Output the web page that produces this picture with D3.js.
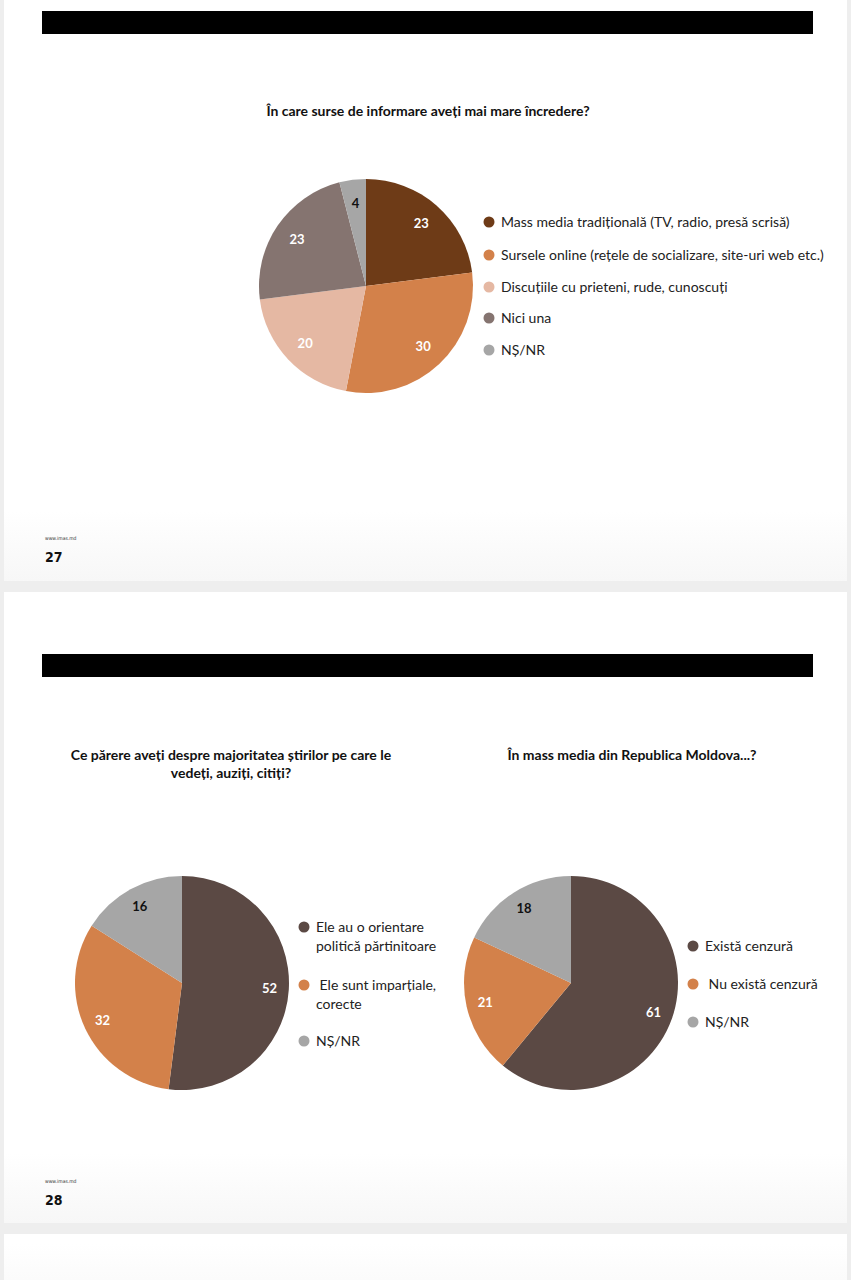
<!DOCTYPE html>
<html><head><meta charset="utf-8">
<script src="https://cdn.jsdelivr.net/npm/d3@7"></script>
<style>
html,body{margin:0;padding:0;background:#eeeeee;}
svg{display:block;}
</style></head>
<body>
<svg id="c" width="851" height="1280"></svg>
<script>
// ---- data ----
const chart1Title = ["În care surse de informare aveți mai mare încredere?"];
const chart1Categories = ["Mass media tradițională (TV, radio, presă scrisă)", "Sursele online (rețele de socializare, site-uri web etc.)", "Discuțiile cu prieteni, rude, cunoscuți", "Nici una", "NȘ/NR"];
const chart1Values = [23, 30, 20, 23, 4];
const chart1Colors = ["#6e3b17", "#d3814a", "#e5b8a3", "#857470", "#a6a6a6"];

const chart2Title = ["Ce părere aveți despre majoritatea știrilor pe care le", "vedeți, auziți, citiți?"];
const chart2Categories = [["Ele au o orientare", "politică părtinitoare"], [" Ele sunt imparțiale,", "corecte"], ["NȘ/NR"]];
const chart2Values = [52, 32, 16];

const chart3Title = ["În mass media din Republica Moldova...?"];
const chart3Categories = [["Există cenzură"], [" Nu există cenzură"], ["NȘ/NR"]];
const chart3Values = [61, 21, 18];
const chart23Colors = ["#5b4944", "#d3814a", "#a6a6a6"];

const pageNumbers = ["27", "28"];
const siteLabel = "www.imas.md";

// ---- drawing ----
const svg = d3.select("#c");
const FONT = "Lato, 'Open Sans', sans-serif";

const defs = svg.append("defs");
const grad = defs.append("linearGradient").attr("id","fg").attr("x1",0).attr("y1",0).attr("x2",0).attr("y2",1);
grad.append("stop").attr("offset","0").attr("stop-color","#ffffff");
grad.append("stop").attr("offset","1").attr("stop-color","#f7f7f7");

// slides
const slides = [{y:-10,h:591},{y:592,h:631},{y:1234,h:80}];
slides.forEach(s=>{
  svg.append("rect").attr("x",4).attr("y",s.y).attr("width",843).attr("height",s.h).attr("fill","#ffffff");
  svg.append("rect").attr("x",4).attr("y",s.y+s.h-70).attr("width",843).attr("height",70).attr("fill","url(#fg)");
});
// black bars
[11,654].forEach(y=>svg.append("rect").attr("x",42).attr("y",y).attr("width",771).attr("height",23).attr("fill","#000"));

// footers
[[538,557,0],[1181,1200,1]].forEach(([y1,y2,i])=>{
  svg.append("text").attr("x",45).attr("y",y1+2).attr("font-family","'DejaVu Sans Condensed', sans-serif").attr("font-size",5).attr("fill","#333").text(siteLabel);
  svg.append("text").attr("x",45).attr("y",y2+5).attr("font-family","'DejaVu Sans Condensed', sans-serif").attr("font-weight","bold").attr("font-size",14).attr("fill","#111").text(pageNumbers[i]);
});

function title(lines, cx, y0){
  lines.forEach((t,i)=>{
    svg.append("text").attr("x",cx).attr("y",y0+i*18).attr("text-anchor","middle")
      .attr("font-family",FONT).attr("font-weight","bold").attr("font-size",14).attr("fill","#111").text(t);
  });
}
title(chart1Title, 428, 116);
title(chart2Title, 231, 760);
title(chart3Title, 632, 760);

function pie(values, colors, cx, cy, r, labelColors, labelPos){
  const g = svg.append("g").attr("transform",`translate(${cx},${cy})`);
  const arcs = d3.pie().sort(null).value(d=>d)(values);
  const arc = d3.arc().innerRadius(0).outerRadius(r);
  g.selectAll("path").data(arcs).join("path").attr("d",arc).attr("fill",(d,i)=>colors[i]);
  const la = d3.arc().innerRadius(r*labelPos).outerRadius(r*labelPos);
  g.selectAll("text").data(arcs).join("text")
    .attr("transform",d=>`translate(${la.centroid(d)})`)
    .attr("text-anchor","middle").attr("dy","0.35em")
    .attr("font-family",FONT).attr("font-weight","bold").attr("font-size",13)
    .attr("fill",(d,i)=>labelColors[i]).text(d=>d.data);
}
pie(chart1Values, chart1Colors, 366, 286, 107, ["#fff","#fff","#fff","#fff","#111"], 0.78);
pie(chart2Values, chart23Colors, 182, 983, 107, ["#fff","#fff","#111"], 0.82);
pie(chart3Values, chart23Colors, 571, 983, 107, ["#fff","#fff","#111"], 0.82);

// legends
function legend(cats, colors, x, ys){
  cats.forEach((c,i)=>{
    const lines = Array.isArray(c)?c:[c];
    svg.append("circle").attr("cx",x).attr("cy",ys[i]).attr("r",5.5).attr("fill",colors[i]);
    lines.forEach((t,j)=>{
      svg.append("text").attr("x",x+12).attr("y",ys[i]+j*19).attr("dy","0.35em")
        .attr("font-family",FONT).attr("font-size",14).attr("fill","#222").style("white-space","pre").text(t);
    });
  });
}
legend(chart1Categories, chart1Colors, 489, [222,255,287,318,350]);
legend(chart2Categories, chart23Colors, 304, [927,985,1041]);
legend(chart3Categories, chart23Colors, 693, [946,984,1022]);
</script>
</body></html>
